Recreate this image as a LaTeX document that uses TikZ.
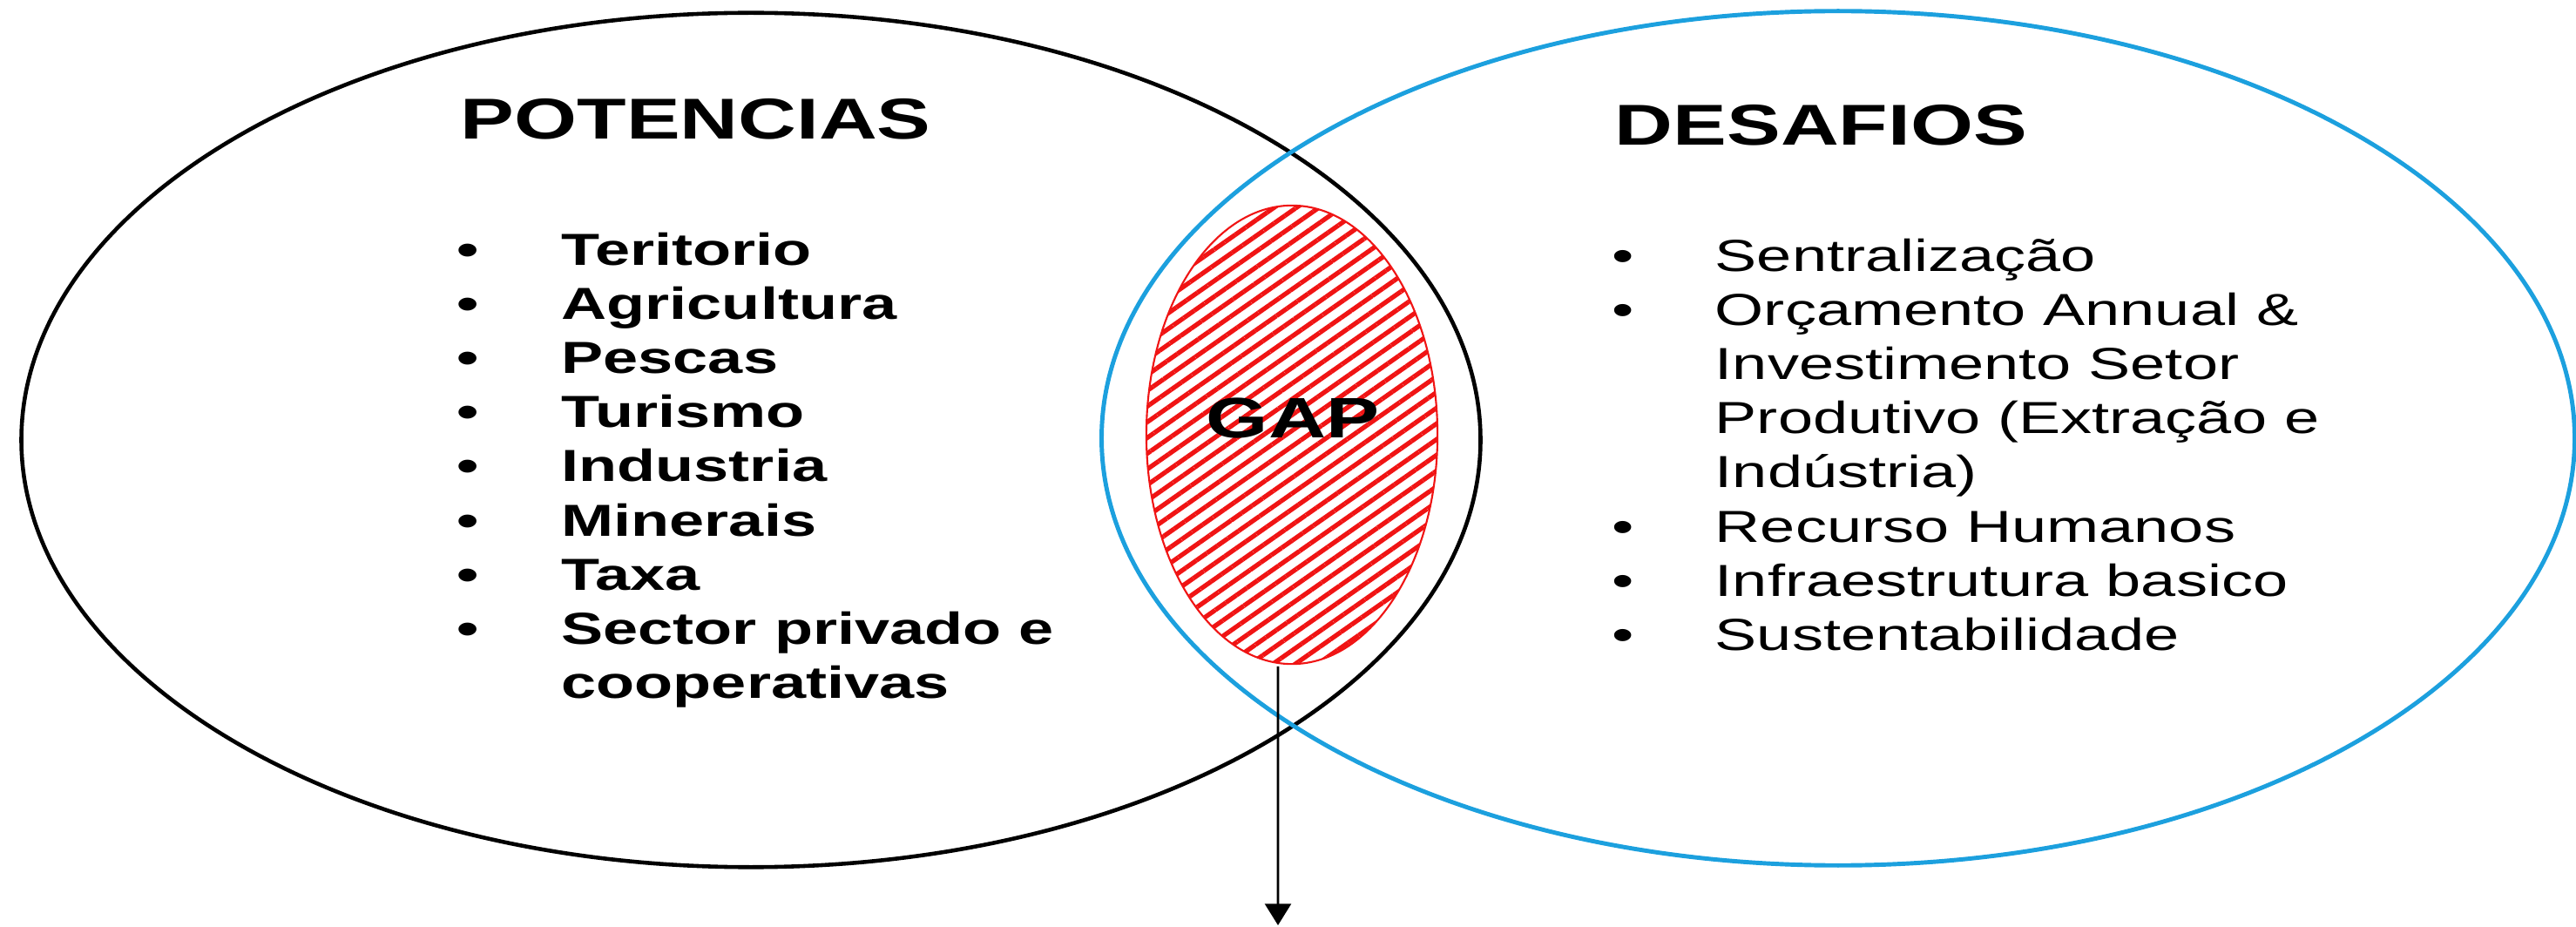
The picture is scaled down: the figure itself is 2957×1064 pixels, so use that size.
\documentclass[tikz,border=0pt]{standalone}
\usepackage{fontspec}
\setmainfont{Liberation Sans}[FakeStretch=1.4]
\usetikzlibrary{shapes.geometric,patterns.meta,arrows.meta}
\definecolor{vennblue}{RGB}{28,160,222}
\definecolor{hatchred}{RGB}{240,20,20}
\newcommand\pbul{\makebox[34.1pt][l]{•}}
\newcommand\dbul{\makebox[33.6pt][l]{•}}
\begin{document}
\begin{tikzpicture}[x=0.01cm,y=-0.01cm,
  circ/.style={draw, ellipse, inner sep=0pt},
  head/.style={anchor=base west, inner sep=0pt, font=\fontsize{18.8}{22}\selectfont\bfseries},
  pitem/.style={anchor=base west, inner sep=0pt, font=\fontsize{14.65}{17.6}\selectfont\bfseries},
  ditem/.style={anchor=base west, inner sep=0pt, font=\fontsize{14.65}{17.6}\selectfont},
  gapfont/.style={inner sep=0pt, font=\fontsize{18.6}{22}\selectfont\bfseries},
]
\useasboundingbox (0,0) rectangle (2957,1064);
% circles
\node[circ, line width=1.3pt, minimum width=16.74cm, minimum height=9.8cm] (pot) at (862,505) {};
\node[circ, draw=vennblue, line width=1.4pt, minimum width=16.9cm, minimum height=9.8cm] (des) at (2110,503) {};
\node[circ, draw=hatchred, line width=0.6pt,
      pattern={Lines[angle=35,distance=4.2pt,line width=1.5pt]}, pattern color=hatchred,
      minimum width=3.34cm, minimum height=5.26cm] (gap) at (1483,499) {};
\node[gapfont] (gaplbl) at (1484,480) {GAP};
% headers
\node[head] (phead) at (528,160) {POTENCIAS};
\node[head] (dhead) at (1853,167) {DESAFIOS};
% left list
\node[pitem] (p1) at (524,305) {\pbul Teritorio};
\node[pitem] (p2) at (524,367) {\pbul Agricultura};
\node[pitem] (p3) at (524,429) {\pbul Pescas};
\node[pitem] (p4) at (524,491) {\pbul Turismo};
\node[pitem] (p5) at (524,553) {\pbul Industria};
\node[pitem] (p6) at (524,615) {\pbul Minerais};
\node[pitem] (p7) at (524,677) {\pbul Taxa};
\node[pitem] (p8) at (524,739) {\pbul Sector privado e};
\node[pitem] (p9) at (524,801) {\hspace*{34.1pt}cooperativas};
% right list
\node[ditem] (d1) at (1850,312) {\dbul Sentralização};
\node[ditem] (d2) at (1850,374) {\dbul Orçamento Annual \&};
\node[ditem] (d3) at (1850,436) {\hspace*{33.6pt}Investimento Setor};
\node[ditem] (d4) at (1850,498) {\hspace*{33.6pt}Produtivo (Extração e};
\node[ditem] (d5) at (1850,560) {\hspace*{33.6pt}Indústria)};
\node[ditem] (d6) at (1850,622) {\dbul Recurso Humanos};
\node[ditem] (d7) at (1850,684) {\dbul Infraestrutura basico};
\node[ditem] (d8) at (1850,746) {\dbul Sustentabilidade};
% arrow
\coordinate (arrend) at (1467,1062);
\draw[line width=0.8pt, -{Triangle[width=8.5pt,length=7pt]}] ([xshift=-0.16cm]gap.south) -- (arrend);
\end{tikzpicture}
\end{document}
